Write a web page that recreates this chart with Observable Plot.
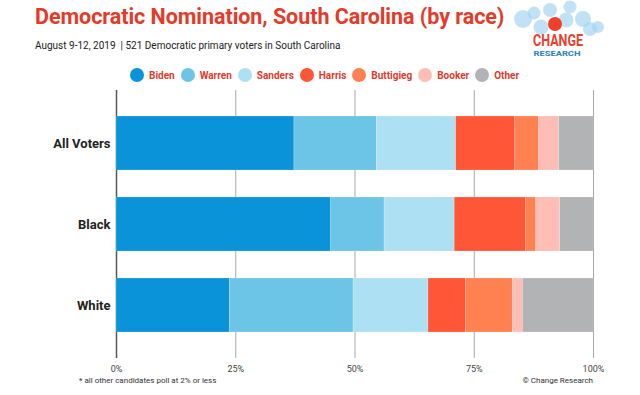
<!DOCTYPE html>
<html>
<head>
<meta charset="utf-8">
<script src="https://cdn.jsdelivr.net/npm/d3@7"></script>
<script src="https://cdn.jsdelivr.net/npm/@observablehq/plot@0.6"></script>
<style>
  html, body { margin: 0; padding: 0; background: #fff; }
  body { width: 640px; height: 395px; position: relative; overflow: hidden; font-family: Roboto, "Open Sans", sans-serif; }
  #title { position: absolute; left: 35px; top: 4px; font-size: 21.5px; font-weight: 700; color: #e53a2a; white-space: nowrap; letter-spacing: -0.05px; }
  #subtitle { position: absolute; left: 35px; top: 40px; font-size: 10px; color: #222; white-space: nowrap; }
  #legend { position: absolute; left: 130px; top: 68px; display: flex; align-items: center; font-size: 10px; font-weight: 700; color: #e03a2c; }
  .item { display: flex; align-items: center; margin-right: 6px; }
  .sw { width: 14px; height: 14px; border-radius: 50%; margin-right: 5px; }
  #chart { position: absolute; left: 0; top: 84px; }
  #note { position: absolute; left: 79px; top: 376px; font-size: 8px; color: #333; white-space: nowrap; }
  #credit { position: absolute; right: 47px; top: 376px; font-size: 8px; color: #333; white-space: nowrap; }
  #logo { position: absolute; left: 505px; top: 0px; }
</style>
</head>
<body>
<div id="title">Democratic Nomination, South Carolina (by race)</div>
<div id="subtitle">August 9-12, 2019 &nbsp;| 521 Democratic primary voters in South Carolina</div>
<svg id="logo" width="100" height="60" viewBox="505 0 100 60">
  <g fill="#9fd3ef" fill-opacity="0.65">
    <circle cx="523" cy="19" r="9"/>
    <circle cx="534" cy="13" r="6.5"/>
    <circle cx="550" cy="10" r="7"/>
    <circle cx="541" cy="27" r="7.5"/>
    <circle cx="570" cy="7" r="6.5"/>
    <circle cx="566" cy="20" r="7.5"/>
    <circle cx="583" cy="19" r="8"/>
    <circle cx="590" cy="29" r="7"/>
    <circle cx="598" cy="27" r="6"/>
  </g>
  <circle cx="555" cy="24" r="7" fill="#f0402c"/>
  <text x="558" y="46" text-anchor="middle" font-family="'Liberation Sans Narrow', 'Roboto', sans-serif" font-weight="700" font-size="17" fill="#e8402e" textLength="50" lengthAdjust="spacingAndGlyphs">CHANGE</text>
  <text x="557" y="55.5" text-anchor="middle" font-family="Roboto, sans-serif" font-weight="700" font-size="8" fill="#2a80c4" textLength="47" lengthAdjust="spacingAndGlyphs">RESEARCH</text>
</svg>
<div id="legend"></div>
<div id="chart"></div>
<div id="note">* all other candidates poll at 2% or less</div>
<div id="credit">© Change Research</div>
<script>
const groups = ["All Voters", "Black", "White"];
const candidates = ["Biden", "Warren", "Sanders", "Harris", "Buttigieg", "Booker", "Other"];
const colors = ["#0a93d9", "#6cc5e6", "#ade0f2", "#ff5638", "#ff8152", "#ffbeb5", "#b2b3b5"];
const allVoters = [37.3, 17.3, 16.6, 12.4, 5.0, 4.2, 7.2];
const black = [45.0, 11.2, 14.7, 15.0, 2.1, 5.0, 7.0];
const white = [23.8, 25.9, 15.7, 7.9, 9.8, 2.1, 14.8];
const xTicks = [0, 25, 50, 75, 100];
const xTickLabels = ["0%", "25%", "50%", "75%", "100%"];

const series = [allVoters, black, white];
const rows = [];
groups.forEach((g, gi) => {
  candidates.forEach((c, ci) => {
    rows.push({group: g, candidate: c, value: series[gi][ci]});
  });
});

// Legend
const legend = document.getElementById("legend");
candidates.forEach((c, i) => {
  const it = document.createElement("div");
  it.className = "item";
  it.innerHTML = `<div class="sw" style="background:${colors[i]}"></div><span>${c}</span>`;
  legend.appendChild(it);
});

const chart = Plot.plot({
  width: 640,
  height: 296,
  marginLeft: 116,
  marginRight: 47,
  marginTop: 6,
  marginBottom: 22,
  style: {fontFamily: "Roboto, sans-serif", background: "transparent"},
  x: {domain: [0, 100], label: null},
  y: {domain: groups, paddingInner: 1 / 3, paddingOuter: 0.32, label: null},
  color: {domain: candidates, range: colors},
  marks: [
    Plot.ruleX(xTicks.filter(d => d !== 0), {stroke: "#a8a8a8", strokeWidth: 1}),
    Plot.ruleX([0], {stroke: "#555", strokeWidth: 1.5}),
    Plot.barX(rows, {x: "value", y: "group", fill: "candidate", stroke: "#ffffff", strokeOpacity: 0.3, strokeWidth: 0.6}),
    Plot.axisX({ticks: xTicks, tickFormat: (d) => xTickLabels[xTicks.indexOf(d)], tickSize: 0, tickPadding: 7, fontSize: 9, fill: "#444", label: null}),
    Plot.axisY({tickSize: 0, tickPadding: 6, fontSize: 13, fontWeight: 700, fill: "#222", label: null})
  ]
});
document.getElementById("chart").appendChild(chart);
</script>
</body>
</html>
